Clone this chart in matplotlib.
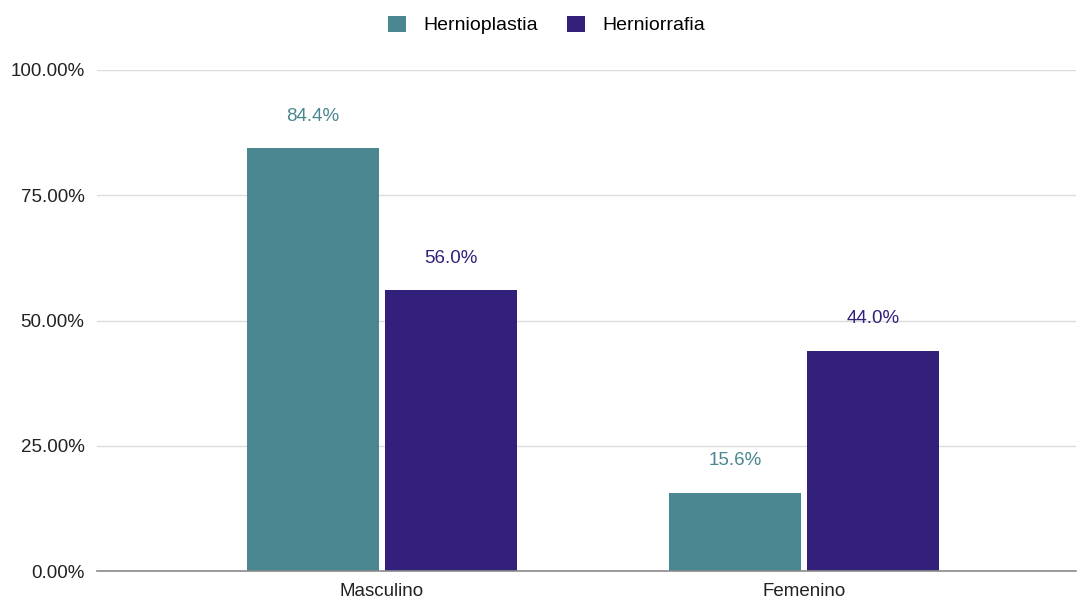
import matplotlib.pyplot as plt
import numpy as np

categories = ["Masculino", "Femenino"]
series_names = ["Hernioplastia", "Herniorrafia"]
hernioplastia = [84.4, 15.6]
herniorrafia = [56.0, 44.0]
yticks = [0, 25, 50, 75, 100]

colors = ["#4a8791", "#33207a"]

plt.rcParams['font.family'] = ['Liberation Sans', 'DejaVu Sans']

fig = plt.figure(figsize=(10.78, 5.99), dpi=100)
ax = fig.add_axes([97 / 1078, 1 - 571 / 599, (1076 - 97) / 1078, (571 - 70) / 599])

x = np.arange(len(categories))
width = 0.313
offsets = [-0.1635, 0.1635]
for vals, off, col, name in zip([hernioplastia, herniorrafia], offsets, colors, series_names):
    bars = ax.bar(x + off, vals, width, color=col, label=name, zorder=3)
    for b, v in zip(bars, vals):
        ax.annotate(f"{v:.1f}%", (b.get_x() + b.get_width() / 2, v),
                    xytext=(0, 17), textcoords="offset points",
                    ha="center", va="bottom", color=col, fontsize=13.5)

ax.set_xlim(-0.675, 1.644)
ax.set_ylim(0, 100)
ax.set_yticks(yticks)
ax.set_yticklabels([f"{t:.2f}%" for t in yticks], fontsize=13.5, color="#222222")
ax.set_xticks(x)
ax.set_xticklabels(categories, fontsize=13.5, color="#222222")
ax.tick_params(axis="y", length=0, pad=9)
ax.tick_params(axis="x", length=0, pad=9)
ax.grid(axis="y", color="#dcdcdc", linewidth=1, zorder=0)
for s in ["top", "right", "left"]:
    ax.spines[s].set_visible(False)
ax.spines["bottom"].set_color("#8a8a8a")
ax.spines["bottom"].set_linewidth(1.2)
ax.spines["bottom"].set_zorder(4)

fig.legend(loc="upper center", bbox_to_anchor=(0.507, 1.003), ncol=2, frameon=False,
           fontsize=14, handlelength=0.9, handleheight=0.9, columnspacing=1.5,
           handletextpad=0.9)

fig.savefig("out.png", dpi=100, facecolor="white")
